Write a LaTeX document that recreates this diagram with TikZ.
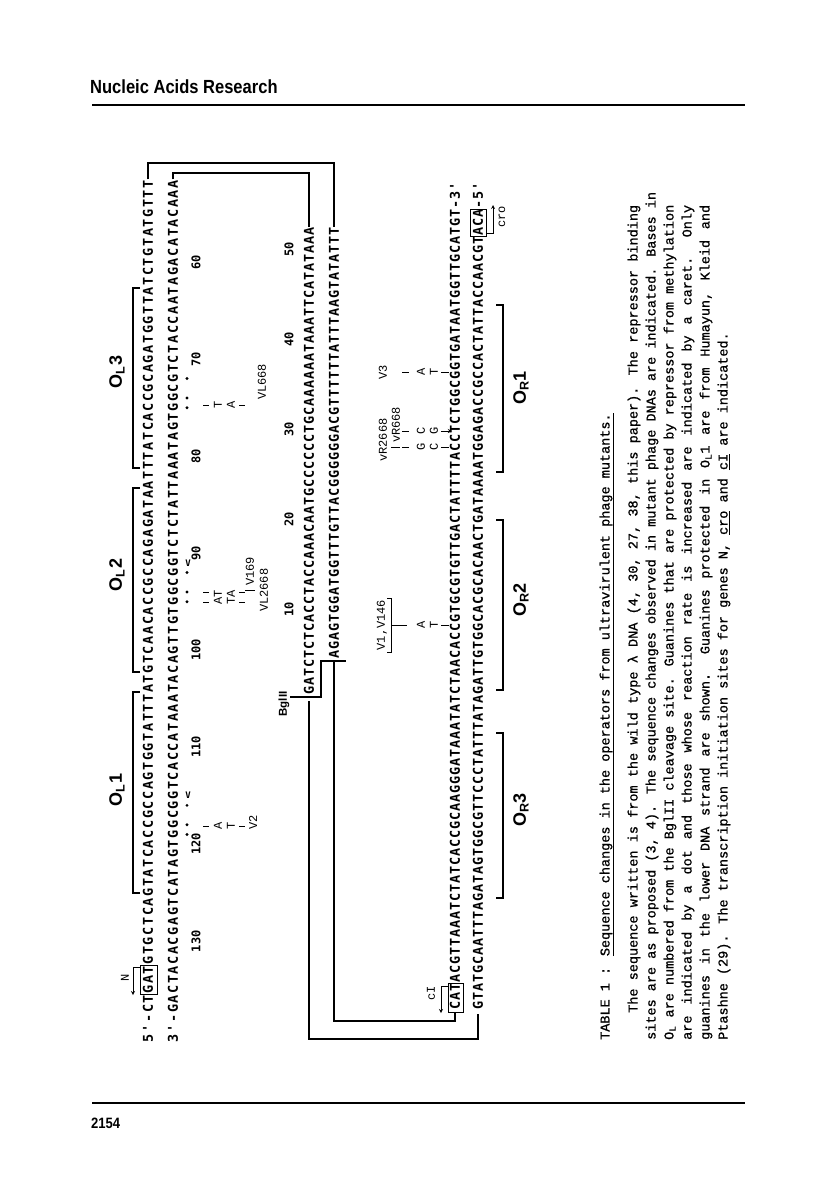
\documentclass[tikz,border=0pt]{standalone}
\usepackage{fontspec}
\setmainfont{Liberation Serif}
\newfontfamily\headfont{Liberation Sans}
\newfontfamily\journalfont{Liberation Sans}[FakeStretch=0.87]
\newfontfamily\capfont{Liberation Mono}
\newfontfamily\legendfont{Liberation Mono}[FakeBold=0.8]
\newfontfamily\seqfont{DejaVu Sans Mono}
% each base in a box of fixed width
\makeatletter
\newcommand\dna[2]{\@tfor\dnach:=#2\do{\makebox[#1][c]{\dnach}}}
\makeatother
\newcommand\justline[1]{\makebox[835pt][s]{\spaceskip=0.6em plus 3em\relax #1}}
\tikzset{
  strand/.style={rotate=90, anchor=west, inner sep=0pt, font=\seqfont\bfseries\fontsize{13.5}{13.5}\selectfont},
  numlbl/.style={rotate=90, inner sep=0pt, font=\seqfont\bfseries\fontsize{12}{12}\selectfont},
  mut/.style={rotate=90, inner sep=0pt, font=\capfont\fontsize{12}{12}\selectfont},
  oplbl/.style={rotate=90, inner sep=0pt, font=\headfont\bfseries\fontsize{18}{18}\selectfont},
  capline/.style={rotate=90, anchor=west, inner sep=0pt, font=\legendfont\fontsize{13.5}{13.5}\selectfont},
  opbracket/.style={line width=1.2pt},
  link/.style={line width=1.2pt},
  tick/.style={line width=0.9pt},
  caret/.style={inner sep=0pt, font=\seqfont\bfseries\fontsize{9}{9}\selectfont},
}
\begin{document}
\begin{tikzpicture}[x=1pt, y=-1pt, >=stealth]
    \fill[white] (0,0) rectangle (816,1202);
    \useasboundingbox (0,0) rectangle (816,1202);

    % page head and foot
    \node[anchor=west, inner sep=0pt, font=\journalfont\bfseries\fontsize{19}{19}\selectfont] (journal) at (90,87) {Nucleic Acids Research};
    \draw[line width=2.5pt] (92,105) -- (745,105);
    \draw[line width=2.5pt] (92,1103) -- (745,1103);
    \node[anchor=west, inner sep=0pt, font=\journalfont\bfseries\fontsize{15}{15}\selectfont] (pageno) at (91,1123) {2154};

    % left operator region
    \node[strand] (tl) at (148,1043) {\dna{9.7pt}{5'-CTGATGTGCTCAGTATCACCGCCAGTGGTATTTATGTCAACACCGCCAGAGATAATTTATCACCGCAGATGGTTATCTGTATGTTT}};
    \node[strand] (bl) at (173,1043) {\dna{9.7pt}{3'-GACTACACGAGTCATAGTGGCGGTCACCATAAATACAGTTGTGGCGGTCTCTATTAAATAGTGGCGTCTACCAATAGACATACAAA}};
    \foreach \n in {60,70,...,130}
        \node[numlbl] (n\n) at (196,{1043-(140.5-\n)*9.7}) {\n};

    \draw[thick] (140,{1043-8*9.7}) rectangle (157,{1043-5*9.7});
    \draw[->, thick] (140,967) -- (133,967) -- (133,995);
    \node[mut] (nlbl) at (125,978) {N};

    \draw[opbracket] (140,893) -- (133,893) -- (133,692) -- (140,692);
    \draw[opbracket] (140,672) -- (133,672) -- (133,488) -- (140,488);
    \draw[opbracket] (140,468) -- (133,468) -- (133,288) -- (140,288);
    \node[oplbl] (ol1) at (117,790) {O\textsubscript{L}1};
    \node[oplbl] (ol2) at (117,575) {O\textsubscript{L}2};
    \node[oplbl] (ol3) at (117,372) {O\textsubscript{L}3};

    % protected guanines and carets
    \foreach \b in {18,19,21,42,43,45,62,63,65}
        \fill (187,{1043-(3.5+\b)*9.7}) circle (1.6);
    \foreach \b in {22,46}
        \node[caret] at (188,{1043-(3.5+\b)*9.7}) {V};

    % mutations in O_L
    \draw[tick] (203,826) -- (209,826);
    \draw[tick] (239,826) -- (245,826);
    \node[mut] (v2a) at (218,826) {A};
    \node[mut] (v2b) at (231,826) {T};
    \node[mut] (v2) at (253,822) {V2};

    \foreach \y in {592,602} {
        \draw[tick] (203,\y) -- (209,\y);
        \draw[tick] (239,\y) -- (245,\y);
    }
    \node[mut] (v169a) at (218,597) {AT};
    \node[mut] (v169b) at (231,597) {TA};
    \draw[tick] (245,590) -- (255,590);
    \node[mut, anchor=west] (v169) at (250,586) {V169};
    \node[mut, anchor=west] (vl2668) at (264,612) {VL2668};

    \draw[tick] (203,405) -- (209,405);
    \draw[tick] (239,405) -- (245,405);
    \node[mut] (vl668a) at (218,405) {T};
    \node[mut] (vl668b) at (231,405) {A};
    \node[mut, anchor=west] (vl668) at (262,400) {VL668};

    % BglII fragment
    \node[strand] (tm) at (309,695) {\dna{9pt}{GATCTCTCACCTACCAAACAATGCCCCCCTGCAAAAAATAAATTCATATAAA}};
    \node[strand] (bm) at (334,659) {\dna{9pt}{AGAGTGGATGGTTTGTTACGGGGGGACGTTTTTTATTTAAGTATATTT}};
    \foreach \n in {10,20,...,50}
        \node[numlbl] (m\n) at (289,{695-(\n-0.5)*9}) {\n};
    \node[rotate=90, inner sep=0pt, font=\headfont\bfseries\fontsize{11.5}{11.5}\selectfont] (bgl) at (284,704) {BglII};
    \draw[link] (290,697) -- (321,697) -- (321,661) -- (346,661);

    % right operator region
    \node[strand] (tr) at (455,1010) {\dna{9pt}{CATACGTTAAATCTATCACCGCAAGGGATAAATATCTAACACCGTGCGTGTTGACTATTTTACCTCTGGCGGTGATAATGGTTGCATGT-3'}};
    \node[strand] (br) at (478,1010) {\dna{9pt}{GTATGCAATTTAGATAGTGGCGTTCCCTATTTATAGATTGTGGCACGCACAACTGATAAAATGGAGACCGCCACTATTACCAACGTACA-5'}};

    \draw[thick] (448,983) rectangle (463,1012);
    \draw[->, thick] (448,986) -- (441,986) -- (441,1013);
    \node[mut] (cilbl) at (431,993) {cI};
    \draw[thick] (470,209) rectangle (486,236);
    \draw[->, thick] (486,233) -- (493,233) -- (493,205);
    \node[mut] (crolbl) at (502,217) {cro};

    \draw[opbracket] (496,472) -- (503,472) -- (503,305) -- (496,305);
    \draw[opbracket] (496,690) -- (503,690) -- (503,520) -- (496,520);
    \draw[opbracket] (496,898) -- (503,898) -- (503,733) -- (496,733);
    \node[oplbl] (or1) at (521,388) {O\textsubscript{R}1};
    \node[oplbl] (or2) at (521,600) {O\textsubscript{R}2};
    \node[oplbl] (or3) at (521,810) {O\textsubscript{R}3};

    % mutations in O_R
    \node[mut] (v146) at (382,625) {V1,V146};
    \draw[tick] (387,598) -- (391,598) -- (391,652) -- (387,652);
    \draw[tick] (391,625) -- (407,625);
    \node[mut] (v146a) at (421,625) {A};
    \node[mut] (v146b) at (434,625) {T};
    \draw[tick] (441,625) -- (449,625);

    \node[mut] (vr2668) at (383,440) {vR2668};
    \draw[tick] (391,447) -- (400,447);
    \node[mut, anchor=west] (vr668) at (396,443) {vR668};
    \foreach \y in {431,447}
        \draw[tick] (402,\y) -- (409,\y);
    \node[mut] (vra) at (421,447) {G};
    \node[mut] (vrb) at (434,447) {C};
    \node[mut] (vrc) at (421,431) {C};
    \node[mut] (vrd) at (434,431) {G};
    \draw[tick] (441,447) -- (449,447);
    \draw[->, tick] (441,431) -- (452,431);

    \node[mut] (v3) at (383,372) {V3};
    \draw[tick] (402,372) -- (409,372);
    \node[mut] (v3a) at (421,372) {A};
    \node[mut] (v3b) at (434,372) {T};
    \draw[tick] (441,372) -- (449,372);

    % strands joined round the ends
    \coordinate (capA) at (0,163);
    \coordinate (capB) at (0,173);
    \coordinate (footA) at (0,1039);
    \coordinate (footB) at (0,1021);
    \draw[link] (tl.east) -- (tl.east |- capA) -| (bm.east);
    \draw[link] (bl.east) -- (bl.east |- capB) -| (tm.east);
    \draw[link] ([yshift=-6pt]tm.west) -- (tm.west |- footA) -| ([yshift=-4pt]br.west);
    \draw[link] ([yshift=-3pt]bm.west) -- (bm.west |- footB) -| ([yshift=-2pt]tr.west);

    % legend
    \node[capline] (cap0) at (607,1040) {TABLE 1 : \underline{Sequence changes in the operators from ultravirulent phage mutants.}};
    \node[capline] (cap1) at (634,1040) {\justline{\hspace*{2em}The sequence written is from the wild type λ DNA (4, 30, 27, 38, this paper). The repressor binding}};
    \node[capline] (cap2) at (652,1040) {\justline{sites are as proposed (3, 4). The sequence changes observed in mutant phage DNAs are indicated. Bases in}};
    \node[capline] (cap3) at (670,1040) {\justline{O\textsubscript{L} are numbered from the BglII cleavage site. Guanines that are protected by repressor from methylation}};
    \node[capline] (cap4) at (688,1040) {\justline{are indicated by a dot and those whose reaction rate is increased are indicated by a caret. Only}};
    \node[capline] (cap5) at (706,1040) {\justline{guanines in the lower DNA strand are shown. Guanines protected in O\textsubscript{L}1 are from Humayun, Kleid and}};
    \node[capline] (cap6) at (724,1040) {Ptashne (29). The transcription initiation sites for genes N, \underline{cro} and \underline{cI} are indicated.};
\end{tikzpicture}
\end{document}
